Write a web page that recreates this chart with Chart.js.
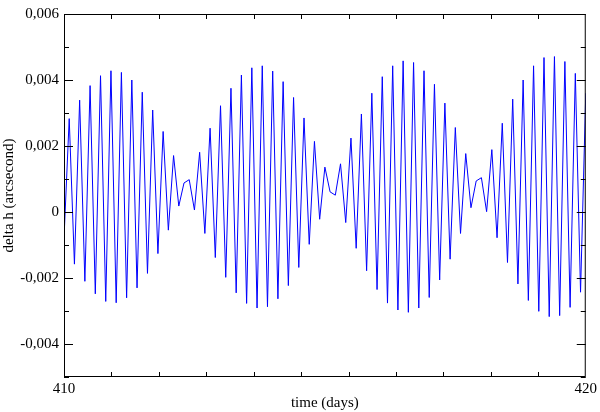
<!DOCTYPE html>
<html>
<head>
<meta charset="utf-8">
<script src="https://cdn.jsdelivr.net/npm/chart.js@4"></script>
<style>
  html, body { margin: 0; padding: 0; background: #fff; }
  #wrap { width: 600px; height: 412px; }
</style>
</head>
<body>
<div id="wrap"><canvas id="chart"></canvas></div>
<script>
// ---------------- DATA ----------------
const days = [
  410.0, 410.1, 410.2, 410.3, 410.4, 410.5, 410.6, 410.7, 410.8, 410.9,
  411.0, 411.1, 411.2, 411.3, 411.4, 411.5, 411.6, 411.7, 411.8, 411.9,
  412.0, 412.1, 412.2, 412.3, 412.4, 412.5, 412.6, 412.7, 412.8, 412.9,
  413.0, 413.1, 413.2, 413.3, 413.4, 413.5, 413.6, 413.7, 413.8, 413.9,
  414.0, 414.1, 414.2, 414.3, 414.4, 414.5, 414.6, 414.7, 414.8, 414.9,
  415.0, 415.1, 415.2, 415.3, 415.4, 415.5, 415.6, 415.7, 415.8, 415.9,
  416.0, 416.1, 416.2, 416.3, 416.4, 416.5, 416.6, 416.7, 416.8, 416.9,
  417.0, 417.1, 417.2, 417.3, 417.4, 417.5, 417.6, 417.7, 417.8, 417.9,
  418.0, 418.1, 418.2, 418.3, 418.4, 418.5, 418.6, 418.7, 418.8, 418.9,
  419.0, 419.1, 419.2, 419.3, 419.4, 419.5, 419.6, 419.7, 419.8, 419.9,
  420.0
];

const deltaH = [
  -0.00080, 0.00283, -0.00158, 0.00339, -0.00210, 0.00383, -0.00248, 0.00413, -0.00271, 0.00428,
  -0.00275, 0.00423, -0.00260, 0.00400, -0.00230, 0.00363, -0.00186, 0.00309, -0.00126, 0.00244,
  -0.00055, 0.00171, 0.00018, 0.00088, 0.00098, 0.00006, 0.00181, -0.00065, 0.00254, -0.00138,
  0.00322, -0.00198, 0.00375, -0.00245, 0.00415, -0.00277, 0.00437, -0.00291, 0.00443, -0.00287,
  0.00427, -0.00263, 0.00395, -0.00223, 0.00347, -0.00168, 0.00285, -0.00098, 0.00214, -0.00022,
  0.00136, 0.00061, 0.00051, 0.00146, -0.00032, 0.00224, -0.00110, 0.00297, -0.00178, 0.00360,
  -0.00235, 0.00410, -0.00276, 0.00443, -0.00297, 0.00458, -0.00304, 0.00453, -0.00291, 0.00428,
  -0.00259, 0.00387, -0.00206, 0.00330, -0.00143, 0.00256, -0.00065, 0.00177, 0.00013, 0.00094,
  0.00104, 0.00001, 0.00189, -0.00078, 0.00269, -0.00153, 0.00342, -0.00218, 0.00400, -0.00268,
  0.00443, -0.00301, 0.00468, -0.00317, 0.00471, -0.00314, 0.00456, -0.00289, 0.00420, -0.00243,
  0.00360
];

// tick labels
const xTickLabels = [410, 420];
const xMinorPerMajor = 10;   // minor ticks between 410 and 420
const yMajorTicks = [-0.004, -0.002, 0, 0.002, 0.004, 0.006];
const yMinorTicks = [-0.005, -0.003, -0.001, 0.001, 0.003, 0.005];

const FONT = "'Liberation Serif', 'DejaVu Serif', serif";

function fmtY(v) {
  if (Math.abs(v) < 1e-9) return "0";
  return v.toFixed(3).replace(".", ",");
}

// ---------------- FRAME + INWARD TICKS ----------------
const frameTicks = {
  id: "frameTicks",
  afterDraw(chart) {
    const { ctx, chartArea: a, scales } = chart;
    const xs = scales.x, ys = scales.y;
    ctx.save();
    ctx.strokeStyle = "#000";
    ctx.lineWidth = 1;
    ctx.beginPath();

    // y ticks, left and right, pointing inside
    const yTick = (v, len) => {
      const py = Math.round(ys.getPixelForValue(v)) + 0.5;
      ctx.moveTo(a.left, py); ctx.lineTo(a.left + len, py);
      ctx.moveTo(a.right, py); ctx.lineTo(a.right - len, py);
    };
    yMajorTicks.forEach(v => yTick(v, 9));
    yMinorTicks.forEach(v => yTick(v, 5));

    // x minor ticks, top and bottom
    const x0 = xTickLabels[0], x1 = xTickLabels[xTickLabels.length - 1];
    for (let k = 1; k <= xMinorPerMajor; k++) {
      const v = x0 + (x1 - x0) * k / (xMinorPerMajor + 1);
      const px = Math.round(xs.getPixelForValue(v)) + 0.5;
      ctx.moveTo(px, a.bottom); ctx.lineTo(px, a.bottom - 5);
      ctx.moveTo(px, a.top); ctx.lineTo(px, a.top + 5);
    }
    ctx.stroke();

    ctx.strokeRect(a.left + 0.5, a.top + 0.5, a.right - a.left - 1, a.bottom - a.top - 1);
    ctx.restore();
  }
};

// ---------------- CHART ----------------
const points = days.map((d, i) => ({ x: d, y: deltaH[i] }));

new Chart(document.getElementById("chart"), {
  type: "scatter",
  data: {
    datasets: [{
      data: points,
      showLine: true,
      borderColor: "#0000ff",
      borderWidth: 1,
      pointRadius: 0,
      tension: 0
    }]
  },
  options: {
    responsive: true,
    maintainAspectRatio: false,
    animation: false,
    layout: { padding: { top: 12, right: 13, left: 0, bottom: 0 } },
    plugins: { legend: { display: false }, tooltip: { enabled: false } },
    scales: {
      x: {
        type: "linear",
        min: 410,
        max: 420,
        afterBuildTicks: s => { s.ticks = xTickLabels.map(v => ({ value: v })); },
        afterFit: s => { s.height = 35; },
        grid: { display: false, drawTicks: false },
        border: { display: false },
        ticks: {
          autoSkip: false,
          maxRotation: 0,
          padding: 3,
          color: "#000",
          font: { family: FONT, size: 15 },
          callback: v => String(v)
        },
        title: {
          display: true,
          text: "time (days)",
          color: "#000",
          font: { family: FONT, size: 15 },
          padding: { top: 0, bottom: 0 }
        }
      },
      y: {
        min: -0.005,
        max: 0.006,
        afterBuildTicks: s => { s.ticks = yMajorTicks.map(v => ({ value: v })); },
        afterFit: s => { s.width = 64; },
        grid: { display: false, drawTicks: false },
        border: { display: false },
        ticks: {
          autoSkip: false,
          padding: 5,
          color: "#000",
          font: { family: FONT, size: 15 },
          callback: v => fmtY(v)
        },
        title: {
          display: true,
          text: "delta h (arcsecond)",
          color: "#000",
          font: { family: FONT, size: 15 },
          padding: { top: 0, bottom: 0 }
        }
      }
    }
  },
  plugins: [frameTicks]
});
</script>
</body>
</html>
